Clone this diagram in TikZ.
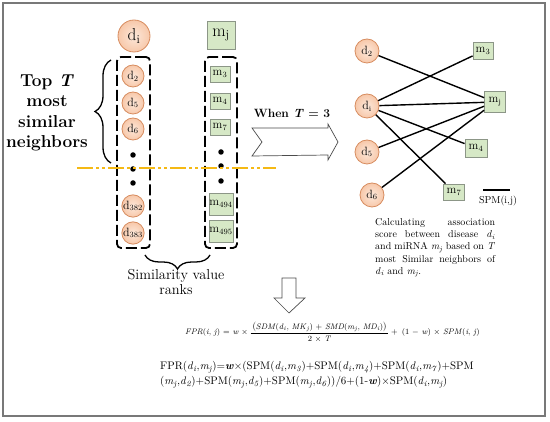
\documentclass[tikz,border=0pt]{standalone}
\usepackage{fix-cm}
\usepackage{amsmath}
\usetikzlibrary{decorations.pathreplacing}
\definecolor{peachin}{RGB}{253,232,218}
\definecolor{peachout}{RGB}{247,200,170}
\definecolor{peachdraw}{RGB}{215,140,95}
\definecolor{greenfill}{RGB}{214,232,198}
\definecolor{greendraw}{RGB}{140,150,135}
\definecolor{yel}{RGB}{245,185,20}
\definecolor{framecol}{RGB}{120,120,120}
\newcommand\mysb[2]{\textit{#1}\textsubscript{\textit{#2}}}
\tikzset{
  dcirc/.style={circle, draw=peachdraw, line width=0.8pt, inner color=peachin, outer color=peachout, inner sep=0pt},
  mbox/.style={rectangle, draw=greendraw, fill=greenfill, line width=0.8pt, inner sep=0pt},
  colbox/.style={draw, line width=1.8pt, dash pattern=on 11pt off 4pt, rounded corners=4pt},
  dotn/.style={circle, fill=black, inner sep=0pt, minimum size=5.5pt},
  edge/.style={line width=1.4pt},
  bigfont/.style={font=\fontsize{17.28}{19}\selectfont},
  smallfont/.style={font=\fontsize{12}{14}\selectfont},
  outarrow/.style={draw=black!70, line width=0.7pt, fill=white}
}
\begin{document}
\begin{tikzpicture}[x=1pt,y=-1pt]
\useasboundingbox (0,0) rectangle (550,422);
\draw[framecol, line width=1.5pt] (3,3) rectangle (545,416);

% left columns
\node[dcirc, minimum size=32pt, bigfont] (bd) at (134,36) {d\textsubscript{i}};
\node[mbox, minimum width=28pt, minimum height=28pt, bigfont] (bm) at (221,35) {m\textsubscript{j}};
\node[colbox, minimum width=33pt, minimum height=191pt] (lbox) at (133.5,152.5) {};
\node[colbox, minimum width=32pt, minimum height=191pt] (rbox) at (221,152.5) {};

\node[dcirc, minimum size=22pt, smallfont] (l2) at (133,76) {d\textsubscript{2}};
\node[dcirc, minimum size=22pt, smallfont] (l5) at (133,103) {d\textsubscript{5}};
\node[dcirc, minimum size=22pt, smallfont] (l6) at (133,129) {d\textsubscript{6}};
\node[dotn] (ld1) at (133,155) {};
\node[dotn] (ld2) at (133,169) {};
\node[dotn] (ld3) at (133,183) {};
\node[dcirc, minimum size=22pt, smallfont] (l382) at (133,206) {d\textsubscript{382}};
\node[dcirc, minimum size=22pt, smallfont] (l383) at (133,233) {d\textsubscript{383}};

\node[mbox, minimum width=20pt, minimum height=16pt, smallfont] (r3) at (220,74) {m\textsubscript{3}};
\node[mbox, minimum width=20pt, minimum height=16pt, smallfont] (r4) at (220,101) {m\textsubscript{4}};
\node[mbox, minimum width=20pt, minimum height=16pt, smallfont] (r7) at (220,127) {m\textsubscript{7}};
\node[dotn] (rd1) at (221,152) {};
\node[dotn] (rd2) at (221,166) {};
\node[dotn] (rd3) at (221,181) {};
\node[mbox, minimum width=24pt, minimum height=22pt, smallfont] (r494) at (221,204) {m\textsubscript{494}};
\node[mbox, minimum width=24pt, minimum height=22pt, smallfont] (r495) at (221,231) {m\textsubscript{495}};

% cut line
\coordinate (cutA) at (77,168);
\coordinate (cutB) at (276,168);
\draw[yel, line width=1.8pt, dash pattern=on 16pt off 3pt on 3pt off 3pt on 3pt off 3pt] (cutA) -- (cutB);

% left brace and label
\coordinate (brA) at (111,163);
\coordinate (brB) at (111,60);
\draw[line width=1.3pt, decorate, decoration={brace, amplitude=16pt}] (brA) -- (brB);
\node[font=\bfseries\fontsize{17.28}{20.5}\selectfont, align=center] (toplab) at (47,113) {Top \textit{T}\\most\\similar\\neighbors};

% bottom brace and label
\coordinate (bbA) at (210,255);
\coordinate (bbB) at (145,255);
\draw[line width=1.3pt, decorate, decoration={brace, amplitude=14pt}] (bbA) -- (bbB);
\node[font=\fontsize{14.4}{15}\selectfont, align=center] (simlab) at (176,282) {Similarity value\\ranks};

% big right arrow
\draw[outarrow] (252,128) -- (328,128) -- (328,124) -- (338,142) -- (328,160) -- (328,155) -- (252,156) -- (262,142) -- cycle;
\node[font=\bfseries\fontsize{12}{13}\selectfont] (when) at (292,113) {When \textit{T} = 3};

% right graph
\node[dcirc, minimum size=24pt, smallfont] (g2) at (367,51) {d\textsubscript{2}};
\node[dcirc, minimum size=24pt, smallfont] (gi) at (367,106) {d\textsubscript{i}};
\node[dcirc, minimum size=24pt, smallfont] (g5) at (367,152) {d\textsubscript{5}};
\node[dcirc, minimum size=24pt, smallfont] (g6) at (372,195) {d\textsubscript{6}};
\node[mbox, minimum width=20pt, minimum height=17pt, smallfont] (h3) at (483,51) {m\textsubscript{3}};
\node[mbox, minimum width=21pt, minimum height=21pt, smallfont] (hj) at (495,102) {m\textsubscript{j}};
\node[mbox, minimum width=22pt, minimum height=18pt, smallfont] (h4) at (476,148) {m\textsubscript{4}};
\node[mbox, minimum width=21pt, minimum height=16pt, smallfont] (h7) at (454,192) {m\textsubscript{7}};
\draw[edge] (g2) -- (hj);
\draw[edge] (gi) -- (h3);
\draw[edge] (gi) -- (hj);
\draw[edge] (gi) -- (h4);
\draw[edge] (gi) -- (h7);
\draw[edge] (g5) -- (hj);
\draw[edge] (g6) -- (hj);

% legend
\coordinate (lgA) at (483,190);
\coordinate (lgB) at (510,190);
\draw[line width=2.6pt] (lgA) -- (lgB);
\node[font=\fontsize{10}{12}\selectfont] (lgt) at (498,201) {SPM(i,j)};

% paragraph
\node[font=\fontsize{10}{12.3}\selectfont, align=left, inner sep=0pt, anchor=north west] (para) at (375,218) {%
\makebox[120pt][s]{Calculating association}\\
\makebox[120pt][s]{score between disease \mysb{d}{i}}\\
\makebox[120pt][s]{and miRNA \mysb{m}{j} based on \textit{T}}\\
\makebox[120pt][s]{most Similar neighbors of}\\
\mysb{d}{i} and \mysb{m}{j}.};

% down arrow
\draw[outarrow] (282,278) -- (296,278) -- (296,298) -- (305,298) -- (289,313) -- (274,298) -- (282,298) -- cycle;

% formulas
\node[anchor=west, inner sep=0pt, font=\fontsize{8}{10}\selectfont] (f1) at (185,333) {%
\textit{FPR}(\textit{i}, \textit{j}) = \textit{w} $\times$
\renewcommand\arraystretch{1.25}\begin{tabular}{@{\,}c@{\,}}
\big(\textit{SDM}(\mysb{d}{i}, \mysb{MK}{j}) + \textit{SMD}(\mysb{m}{j}, \mysb{MD}{i})\big)\\ \hline
2 $\times$ \textit{T}\end{tabular}
+\enspace (1 $-$ \textit{w}) $\times$ \textit{SPM}(\textit{i}, \textit{j})};
\node[font=\fontsize{10.95}{15}\selectfont, align=left, anchor=north west, inner sep=0pt] (f2) at (160,361) {%
FPR(\mysb{d}{i},\mysb{m}{j})=\textbf{\textit{w}}$\times$(SPM(\mysb{d}{i},\mysb{m}{3})+SPM(\mysb{d}{i},\mysb{m}{4})+SPM(\mysb{d}{i},\mysb{m}{7})+SPM\\
(\mysb{m}{j},\mysb{d}{2})+SPM(\mysb{m}{j},\mysb{d}{5})+SPM(\mysb{m}{j},\mysb{d}{6}))/6+(1-\textbf{\textit{w}})$\times$SPM(\mysb{d}{i},\mysb{m}{j})};
\end{tikzpicture}
\end{document}
